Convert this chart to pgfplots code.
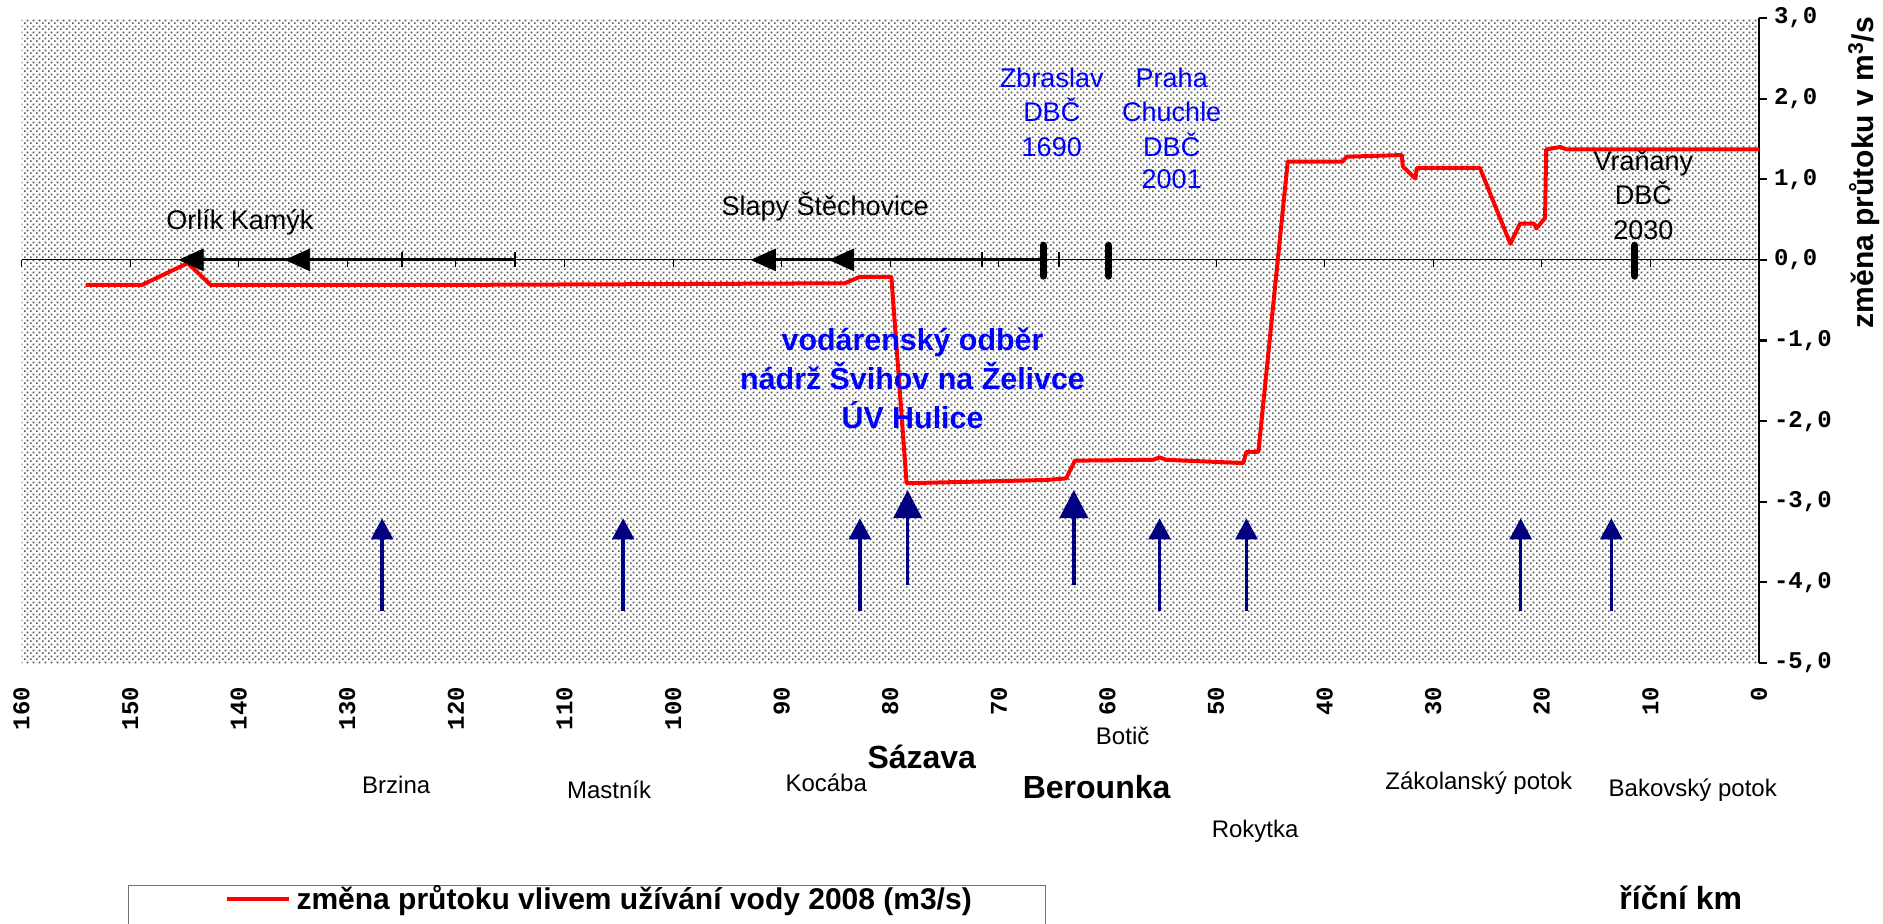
\documentclass[border=0pt]{standalone}
\usepackage{fontspec}
\setmainfont{Liberation Sans}
\newfontfamily\cmono{Liberation Mono}
\usepackage{pgfplots}
\pgfplotsset{compat=1.18}
\usetikzlibrary{patterns,arrows.meta}
\definecolor{navyA}{RGB}{0,0,128}
\definecolor{pureblue}{RGB}{0,0,255}
\definecolor{purered}{RGB}{255,0,0}
\pgfdeclarepatternformonly{xldots}{\pgfpointorigin}{\pgfqpoint{3pt}{3pt}}{\pgfqpoint{3pt}{3pt}}{%
  \pgfpathrectangle{\pgfqpoint{0pt}{0pt}}{\pgfqpoint{1pt}{1pt}}%
  \pgfpathrectangle{\pgfqpoint{1.5pt}{1.5pt}}{\pgfqpoint{1pt}{1pt}}%
  \pgfusepath{fill}}
\newcommand\lab{\fontsize{13.5}{15}\selectfont}
\newcommand\labs{\fontsize{12}{14}\selectfont}
\newcommand\labb{\bfseries\fontsize{16}{19}\selectfont}
\newcommand\labblue{\bfseries\fontsize{15.2}{17}\selectfont}
\begin{document}
\begin{tikzpicture}
% background pattern and zero line with ticks
\begin{axis}[
  at={(0,0)}, anchor=south west,
  scale only axis, width=868.7pt, height=322.5pt,
  x dir=reverse, xmin=0, xmax=160, ymin=-5, ymax=3,
  axis x line=middle, axis y line=none,
  every inner x axis line/.append style={-},
  x axis line style={black, line width=0.5pt, -},
  xtick distance=10, xticklabels={},
  xtick style={black, line width=0.5pt},
  xtick align=outside, major tick length=3.5pt,
  axis background/.style={pattern=xldots, pattern color=black!65},
]
\addplot[draw=none, forget plot] coordinates {(0,0)};
\end{axis}
% main axis
\begin{axis}[
  at={(0,0)}, anchor=south west,
  scale only axis, width=868.7pt, height=322.5pt,
  x dir=reverse, xmin=0, xmax=160, ymin=-5, ymax=3,
  clip=false,
  axis y line*=right, axis x line*=bottom,
  x axis line style={draw=none},
  xtick={0,10,...,160},
  xtick style={draw=none},
  xticklabel style={rotate=90, anchor=east, font=\cmono\bfseries\fontsize{12}{14}\selectfont},
  xticklabel shift=8.5pt,
  ytick={-5,-4,...,3},
  ytick align=outside,
  y axis line style={black, line width=1.1pt},
  ytick style={black, line width=1.1pt},
  major tick length=4pt,
  yticklabel style={font=\cmono\bfseries\fontsize{12}{14}\selectfont,
    /pgf/number format/fixed, /pgf/number format/fixed zerofill,
    /pgf/number format/precision=1, /pgf/number format/use comma},
  /pgf/number format/assume math mode=true,
  legend cell align=left,
  legend style={at={(0.0612,-0.3442)}, anchor=north west, draw=black!55,
    line width=0.65pt, inner xsep=0pt, inner ysep=0pt,
    font=\bfseries\fontsize{15}{18}\selectfont,
    nodes={inner xsep=3pt, inner ysep=0pt}, row sep=2pt},
]
% red line
\addplot[purered, line width=2pt, line join=round,
  legend image code/.code={\path[draw=none] (-49pt,0pt); \draw[purered, line width=2pt] (0pt,0pt) -- (31pt,0pt);}]
coordinates {
(154.1,-0.31) (148.9,-0.31) (144.7,-0.04) (142.6,-0.31) (120,-0.31) (100,-0.30)
(84.2,-0.29) (82.8,-0.21) (79.9,-0.21) (78.5,-2.77) (72,-2.75) (65.6,-2.73)
(63.8,-2.71) (63.0,-2.49) (55.8,-2.48) (55.2,-2.45) (54.6,-2.48) (47.5,-2.52)
(47.2,-2.38) (46.1,-2.38) (43.4,1.22) (38.35,1.22) (37.95,1.28) (32.9,1.30)
(32.8,1.16) (31.65,1.01) (31.5,1.14) (25.7,1.14) (22.9,0.20) (22.0,0.45)
(20.7,0.45) (20.5,0.39) (19.7,0.52) (19.6,1.37) (18.3,1.40) (17.7,1.37) (0,1.37)
};
\addlegendentry{změna průtoku vlivem užívání vody 2008 (m3/s)\hspace*{34pt}}
\addlegendimage{legend image code/.code={\path[draw=none] (-49pt,-8pt) rectangle (31pt,8pt);}}
\addlegendentry{\phantom{X}}
% black reservoir series
\addplot[black, line width=1.4pt, forget plot] coordinates {(144.0,0) (114.6,0)};
\addplot[black, line width=1.4pt, forget plot] coordinates {(91.3,0) (65.9,0)};
\addplot[only marks, mark=triangle*, mark size=8pt,
  mark options={rotate=90, xscale=0.78, fill=black, draw=black}, forget plot]
  coordinates {(144.0,0) (134.2,0) (91.3,0) (84.1,0)};
\addplot[only marks, mark=|, mark size=3.75pt, mark options={line width=1pt, black}, forget plot]
  coordinates {(125,0) (114.6,0) (71.6,0) (64.45,0)};
% gauging stations
\addplot[black, line width=3.7pt, line cap=round, forget plot] coordinates {(65.9,-0.20) (65.9,0.18)};
\addplot[black, line width=3.7pt, line cap=round, forget plot] coordinates {(59.9,-0.20) (59.9,0.18)};
\addplot[black, line width=3.7pt, line cap=round, forget plot] coordinates {(11.44,-0.20) (11.44,0.18)};
% tributaries
\addplot[navyA, line width=1.8pt, -{Triangle[width=10.8pt,length=10.5pt]},
  quiver={u=0, v=\thisrow{v}}, forget plot] table[x=x, y=y] {
x y v
126.8 -4.35 1.145
104.6 -4.35 1.145
82.8 -4.35 1.145
55.2 -4.35 1.145
47.2 -4.35 1.145
21.95 -4.35 1.145
13.6 -4.35 1.145
};
\addplot[navyA, line width=1.8pt, -{Triangle[width=14pt,length=14pt]},
  quiver={u=0, v=\thisrow{v}}, forget plot] table[x=x, y=y] {
x y v
78.4 -4.03 1.175
63.1 -4.03 1.175
};
% annotations
\node[anchor=base, font=\lab] at (axis cs:139.9,0.379) {Orlík Kamýk};
\node[anchor=base, font=\lab] at (axis cs:86.0,0.548) {Slapy Štěchovice};
\node[anchor=base, font=\lab, text=pureblue] at (axis cs:65.13,2.132) {Zbraslav};
\node[anchor=base, font=\lab, text=pureblue] at (axis cs:65.13,1.714) {DBČ};
\node[anchor=base, font=\lab, text=pureblue] at (axis cs:65.13,1.288) {1690};
\node[anchor=base, font=\lab, text=pureblue] at (axis cs:54.08,2.132) {Praha};
\node[anchor=base, font=\lab, text=pureblue] at (axis cs:54.08,1.714) {Chuchle};
\node[anchor=base, font=\lab, text=pureblue] at (axis cs:54.08,1.288) {DBČ};
\node[anchor=base, font=\lab, text=pureblue] at (axis cs:54.08,0.888) {2001};
\node[anchor=base, font=\lab] at (axis cs:10.64,1.114) {Vraňany};
\node[anchor=base, font=\lab] at (axis cs:10.64,0.688) {DBČ};
\node[anchor=base, font=\lab] at (axis cs:10.64,0.254) {2030};
\node[anchor=base, font=\labblue, text=pureblue] at (axis cs:77.95,-1.119) {vodárenský odběr};
\node[anchor=base, font=\labblue, text=pureblue] at (axis cs:77.95,-1.606) {nádrž Švihov na Želivce};
\node[anchor=base, font=\labblue, text=pureblue] at (axis cs:77.95,-2.090) {ÚV Hulice};
\node[anchor=base, font=\labs] at (axis cs:58.6,-6.013) {Botič};
\node[anchor=base, font=\labb] at (axis cs:77.1,-6.305) {Sázava};
\node[anchor=base, font=\labb] at (axis cs:61.0,-6.683) {Berounka};
\node[anchor=base, font=\labs] at (axis cs:125.5,-6.618) {Brzina};
\node[anchor=base, font=\labs] at (axis cs:105.9,-6.681) {Mastník};
\node[anchor=base, font=\labs] at (axis cs:85.9,-6.597) {Kocába};
\node[anchor=base, font=\labs] at (axis cs:25.8,-6.564) {Zákolanský potok};
\node[anchor=base, font=\labs] at (axis cs:6.1,-6.654) {Bakovský potok};
\node[anchor=base, font=\labs] at (axis cs:46.4,-7.16) {Rokytka};
\node[anchor=base, font=\labb] at (axis cs:7.2,-8.054) {říční km};
\node[rotate=90, anchor=east, font=\bfseries\fontsize{15}{18}\selectfont]
  at (axis description cs:1.0604,1.0124) {změna průtoku v m\textsuperscript{3}/s};
\end{axis}
\pgfresetboundingbox
\path[use as bounding box] (-10.8pt,-130pt) rectangle (930.7pt,331.5pt);
\end{tikzpicture}
\end{document}
